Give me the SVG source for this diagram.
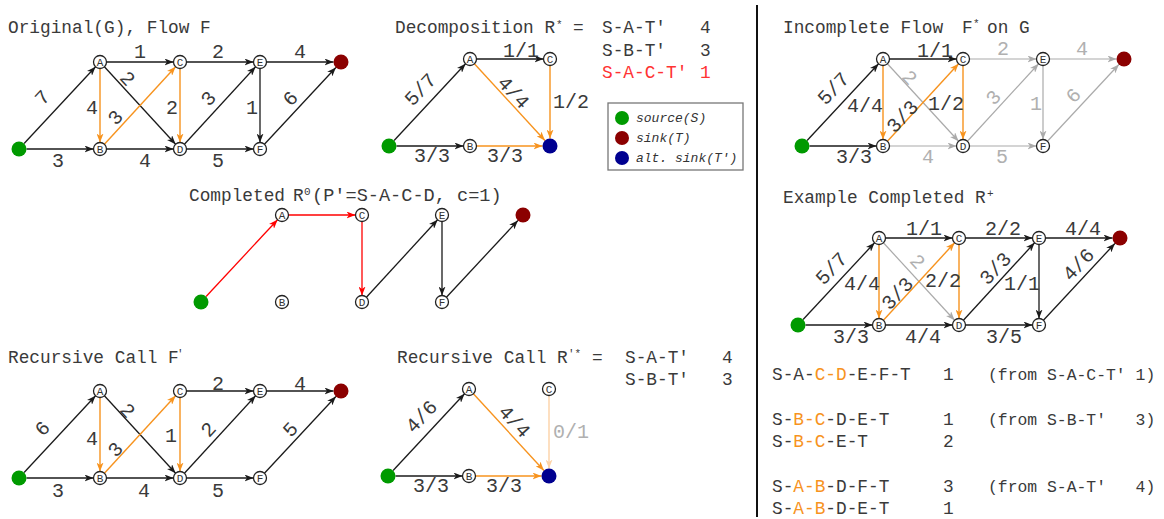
<svg xmlns="http://www.w3.org/2000/svg" width="1164" height="519" viewBox="0 0 1164 519">
<style>
.t{font-family:"Liberation Mono",monospace;font-size:17.8px;fill:#3a3a3a;white-space:pre}
.sm{font-size:16.4px}
.sup{font-family:"Liberation Mono",monospace;font-size:11px;fill:#3a3a3a}
.l{font-family:"Liberation Mono",monospace;font-size:20px;fill:#3a3a3a;text-anchor:middle}
.lg{fill:#b0b0b0}
.nt{font-family:"Liberation Mono",monospace;font-size:11px;fill:#333;text-anchor:middle}
.n{fill:#fff;stroke:#222;stroke-width:1.3}
.e{fill:none;stroke:#1a1a1a;stroke-width:1.3;marker-end:url(#ab)}
.eo{fill:none;stroke:#f7931e;stroke-width:1.4;marker-end:url(#ao)}
.eg{fill:none;stroke:#aaa;stroke-width:1.2;marker-end:url(#ag)}
.er{fill:none;stroke:#f00;stroke-width:1.3;marker-end:url(#ar)}
.el{fill:none;stroke:#fdd2a6;stroke-width:1.4;marker-end:url(#al)}
.src{fill:#009a00}
.snk{fill:#8b0000}
.alt{fill:#000090}
.leg{font-family:"Liberation Mono",monospace;font-size:13px;font-style:italic;fill:#333}
.o{fill:#f7931e}
</style>
<defs>
<marker id="ab" viewBox="0 0 9 7" refX="9" refY="3.5" markerWidth="9" markerHeight="7" markerUnits="userSpaceOnUse" orient="auto"><path d="M0,0 L9,3.5 L0,7 L2.5,3.5 Z" fill="#1a1a1a"/></marker>
<marker id="ao" viewBox="0 0 9 7" refX="9" refY="3.5" markerWidth="9" markerHeight="7" markerUnits="userSpaceOnUse" orient="auto"><path d="M0,0 L9,3.5 L0,7 L2.5,3.5 Z" fill="#f7931e"/></marker>
<marker id="ag" viewBox="0 0 9 7" refX="9" refY="3.5" markerWidth="9" markerHeight="7" markerUnits="userSpaceOnUse" orient="auto"><path d="M0,0 L9,3.5 L0,7 L2.5,3.5 Z" fill="#aaa"/></marker>
<marker id="ar" viewBox="0 0 9 7" refX="9" refY="3.5" markerWidth="9" markerHeight="7" markerUnits="userSpaceOnUse" orient="auto"><path d="M0,0 L9,3.5 L0,7 L2.5,3.5 Z" fill="#f00"/></marker>
<marker id="al" viewBox="0 0 9 7" refX="9" refY="3.5" markerWidth="9" markerHeight="7" markerUnits="userSpaceOnUse" orient="auto"><path d="M0,0 L9,3.5 L0,7 L2.5,3.5 Z" fill="#fdd2a6"/></marker>
</defs>
<rect width="1164" height="519" fill="#fff"/>

<!-- Titles -->
<g id="titles">
<text class="t" x="8" y="33">Original(G), Flow F</text>
<text class="t" x="395" y="33">Decomposition R</text><text class="sup" x="556" y="28">*</text><text class="t" x="573" y="33">=</text>
<text class="t" x="602" y="33">S-A-T'</text><text class="t" x="700" y="33">4</text>
<text class="t" x="602" y="56">S-B-T'</text><text class="t" x="700" y="56">3</text>
<text class="t" x="602" y="78" style="fill:#ff3333">S-A-C-T'</text><text class="t" x="700" y="78" style="fill:#ff3333">1</text>
<text class="t" x="783" y="33">Incomplete Flow</text><text class="t" x="962" y="33">F</text><text class="sup" x="973" y="27">*</text><text class="t" x="987" y="33">on G</text>
<text class="t" x="189" y="201">Completed</text><text class="t" x="293" y="201">R</text><text class="sup" x="304" y="195">0</text><text class="t" x="312" y="201" style="font-size:18.6px">(P'=S-A-C-D, c=1)</text>
<text class="t" x="783" y="203">Example Completed R</text><text class="sup" x="987" y="197">+</text>
<text class="t" x="8" y="363">Recursive Call F</text><text class="sup" x="177" y="357">'</text>
<text class="t" x="397" y="363">Recursive Call R</text><text class="sup" x="568" y="357">'*</text><text class="t" x="592" y="363">=</text>
<text class="t" x="625" y="363">S-A-T'</text><text class="t" x="722" y="363">4</text>
<text class="t" x="625" y="385">S-B-T'</text><text class="t" x="722" y="385">3</text>
</g>

<!-- Legend -->
<g id="legend">
<rect x="608" y="103" width="135" height="67" fill="#fff" stroke="#777" stroke-width="1.3"/>
<circle class="src" cx="622" cy="118" r="7"/><text class="leg" x="636" y="122">source(S)</text>
<circle class="snk" cx="622" cy="138" r="7"/><text class="leg" x="636" y="142">sink(T)</text>
<circle class="alt" cx="622" cy="158" r="7"/><text class="leg" x="636" y="162">alt. sink(T')</text>
</g>

<line id="divider" x1="757" y1="5" x2="757" y2="517" stroke="#111" stroke-width="2"/>

<!-- Panel 1: Original G -->
<g id="panel-original" transform="translate(19,149)">
<g id="p1-edges">
<path class="e" d="M5.1,-5.5 L76.57,-82.24"/>
<path class="e" d="M7.5,0 L74.5,0"/>
<path class="e" d="M87.5,-87 L154.5,-87"/>
<path class="eo" d="M81,-80.5 L81,-6.5"/>
<path class="e" d="M85.4,-82.22 L156.6,-4.78"/>
<path class="eo" d="M85.4,-4.78 L156.6,-82.22"/>
<path class="e" d="M87.5,0 L154.5,0"/>
<path class="eo" d="M161,-80.5 L161,-6.5"/>
<path class="e" d="M167.5,-87 L234.5,-87"/>
<path class="e" d="M165.4,-4.78 L236.6,-82.22"/>
<path class="e" d="M167.5,0 L234.5,0"/>
<path class="e" d="M241,-80.5 L241,-6.5"/>
<path class="e" d="M247.5,-87 L314.5,-87"/>
<path class="e" d="M245.43,-4.76 L316.89,-81.51"/>
</g>
<g id="p1-labels">
<text class="l" transform="translate(23,-52) rotate(-47)" y="7">7</text>
<text class="l" x="121" y="-91">1</text>
<text class="l" x="199" y="-91">2</text>
<text class="l" x="281" y="-91">4</text>
<text class="l" x="73" y="-35">4</text>
<text class="l" transform="translate(109,-71) rotate(47)" y="7">2</text>
<text class="l" transform="translate(96,-32) rotate(-47)" y="7">3</text>
<text class="l" x="153" y="-35">2</text>
<text class="l" transform="translate(189,-51) rotate(-47)" y="7">3</text>
<text class="l" x="233" y="-35">1</text>
<text class="l" transform="translate(271,-51) rotate(-47)" y="7">6</text>
<text class="l" x="39" y="18">3</text>
<text class="l" x="126" y="18">4</text>
<text class="l" x="199" y="18">5</text>
</g>
<g id="p1-S"><circle class="src" cx="0" cy="0" r="7.5"/></g>
<g id="p1-A"><circle class="n" cx="81" cy="-87" r="6.5"/><text class="nt" x="81" y="-83">A</text></g>
<g id="p1-B"><circle class="n" cx="81" cy="0" r="6.5"/><text class="nt" x="81" y="4">B</text></g>
<g id="p1-C"><circle class="n" cx="161" cy="-87" r="6.5"/><text class="nt" x="161" y="-83">C</text></g>
<g id="p1-D"><circle class="n" cx="161" cy="0" r="6.5"/><text class="nt" x="161" y="4">D</text></g>
<g id="p1-E"><circle class="n" cx="241" cy="-87" r="6.5"/><text class="nt" x="241" y="-83">E</text></g>
<g id="p1-F"><circle class="n" cx="241" cy="0" r="6.5"/><text class="nt" x="241" y="4">F</text></g>
<g id="p1-T"><circle class="snk" cx="322" cy="-87" r="7.5"/></g>
</g>

<!-- Panel 2: Decomposition -->
<g id="panel-decomp" transform="translate(389,146)">
<g id="p2-edges">
<path class="e" d="M5.1,-5.5 L76.57,-82.24"/>
<path class="e" d="M7.5,0 L74.5,0"/>
<path class="e" d="M87.5,-87 L154.5,-87"/>
<path class="eo" d="M85.4,-82.22 L155.92,-5.52"/>
<path class="eo" d="M161,-80.5 L161,-7.5"/>
<path class="eo" d="M87.5,0 L153.5,0"/>
</g>
<g id="p2-labels">
<text class="l" transform="translate(31,-57) rotate(-47)" y="7">5/7</text>
<text class="l" x="132" y="-89">1/1</text>
<text class="l" transform="translate(125,-54) rotate(47)" y="7">4/4</text>
<text class="l" x="182" y="-38">1/2</text>
<text class="l" x="43" y="16">3/3</text>
<text class="l" x="116" y="16">3/3</text>
</g>
<g id="p2-S"><circle class="src" cx="0" cy="0" r="7.5"/></g>
<g id="p2-A"><circle class="n" cx="81" cy="-87" r="6.5"/><text class="nt" x="81" y="-83">A</text></g>
<g id="p2-B"><circle class="n" cx="81" cy="0" r="6.5"/><text class="nt" x="81" y="4">B</text></g>
<g id="p2-C"><circle class="n" cx="161" cy="-87" r="6.5"/><text class="nt" x="161" y="-83">C</text></g>
<g id="p2-T2"><circle class="alt" cx="161" cy="0" r="7.5"/></g>
</g>

<!-- Panel 3: Incomplete Flow -->
<g id="panel-incomplete" transform="translate(802,146)">
<g id="p3-edges">
<path class="eg" d="M85.4,-82.22 L156.6,-4.78"/>
<path class="eg" d="M87.5,0 L154.5,0"/>
<path class="eg" d="M167.5,-87 L234.5,-87"/>
<path class="eg" d="M165.4,-4.78 L236.6,-82.22"/>
<path class="eg" d="M167.5,0 L234.5,0"/>
<path class="eg" d="M241,-80.5 L241,-6.5"/>
<path class="eg" d="M247.5,-87 L314.5,-87"/>
<path class="eg" d="M245.43,-4.76 L316.89,-81.51"/>
<path class="e" d="M5.1,-5.5 L76.57,-82.24"/>
<path class="e" d="M7.5,0 L74.5,0"/>
<path class="e" d="M87.5,-87 L154.5,-87"/>
<path class="eo" d="M81,-80.5 L81,-6.5"/>
<path class="eo" d="M85.4,-4.78 L156.6,-82.22"/>
<path class="eo" d="M161,-80.5 L161,-6.5"/>
</g>
<g id="p3-labels">
<text class="l" transform="translate(31,-58) rotate(-47)" y="7">5/7</text>
<text class="l" x="63" y="-34">4/4</text>
<text class="l" transform="translate(100,-30) rotate(-47)" y="7">3/3</text>
<text class="l" x="133" y="-89">1/1</text>
<text class="l lg" transform="translate(108,-69) rotate(47)" y="7">2</text>
<text class="l" x="144" y="-36">1/2</text>
<text class="l lg" x="201" y="-91">2</text>
<text class="l lg" x="280" y="-91">4</text>
<text class="l lg" transform="translate(191,-49) rotate(-47)" y="7">3</text>
<text class="l lg" x="234" y="-36">1</text>
<text class="l lg" transform="translate(271,-51) rotate(-47)" y="7">6</text>
<text class="l" x="52" y="17">3/3</text>
<text class="l lg" x="126" y="17">4</text>
<text class="l lg" x="200" y="17">5</text>
</g>
<g id="p3-S"><circle class="src" cx="0" cy="0" r="7.5"/></g>
<g id="p3-A"><circle class="n" cx="81" cy="-87" r="6.5"/><text class="nt" x="81" y="-83">A</text></g>
<g id="p3-B"><circle class="n" cx="81" cy="0" r="6.5"/><text class="nt" x="81" y="4">B</text></g>
<g id="p3-C"><circle class="n" cx="161" cy="-87" r="6.5"/><text class="nt" x="161" y="-83">C</text></g>
<g id="p3-D"><circle class="n" cx="161" cy="0" r="6.5"/><text class="nt" x="161" y="4">D</text></g>
<g id="p3-E"><circle class="n" cx="241" cy="-87" r="6.5"/><text class="nt" x="241" y="-83">E</text></g>
<g id="p3-F"><circle class="n" cx="241" cy="0" r="6.5"/><text class="nt" x="241" y="4">F</text></g>
<g id="p3-T"><circle class="snk" cx="322" cy="-87" r="7.5"/></g>
</g>

<!-- Panel 4: Completed R0 -->
<g id="panel-r0" transform="translate(201,302)">
<g id="p4-edges">
<path class="er" d="M5.1,-5.5 L76.57,-82.24"/>
<path class="er" d="M87.5,-87 L154.5,-87"/>
<path class="er" d="M161,-80.5 L161,-6.5"/>
<path class="e" d="M165.4,-4.78 L236.6,-82.22"/>
<path class="e" d="M241,-80.5 L241,-6.5"/>
<path class="e" d="M245.43,-4.76 L316.89,-81.51"/>
</g>
<g id="p4-S"><circle class="src" cx="0" cy="0" r="7.5"/></g>
<g id="p4-A"><circle class="n" cx="81" cy="-87" r="6.5"/><text class="nt" x="81" y="-83">A</text></g>
<g id="p4-B"><circle class="n" cx="81" cy="0" r="6.5"/><text class="nt" x="81" y="4">B</text></g>
<g id="p4-C"><circle class="n" cx="161" cy="-87" r="6.5"/><text class="nt" x="161" y="-83">C</text></g>
<g id="p4-D"><circle class="n" cx="161" cy="0" r="6.5"/><text class="nt" x="161" y="4">D</text></g>
<g id="p4-E"><circle class="n" cx="241" cy="-87" r="6.5"/><text class="nt" x="241" y="-83">E</text></g>
<g id="p4-F"><circle class="n" cx="241" cy="0" r="6.5"/><text class="nt" x="241" y="4">F</text></g>
<g id="p4-T"><circle class="snk" cx="322" cy="-87" r="7.5"/></g>
</g>

<!-- Panel 5: Example Completed R+ -->
<g id="panel-rplus" transform="translate(798,325)">
<g id="p5-edges">
<path class="eg" d="M85.4,-82.22 L156.6,-4.78"/>
<path class="e" d="M5.1,-5.5 L76.57,-82.24"/>
<path class="e" d="M7.5,0 L74.5,0"/>
<path class="e" d="M87.5,-87 L154.5,-87"/>
<path class="eo" d="M81,-80.5 L81,-6.5"/>
<path class="eo" d="M85.4,-4.78 L156.6,-82.22"/>
<path class="e" d="M87.5,0 L154.5,0"/>
<path class="eo" d="M161,-80.5 L161,-6.5"/>
<path class="e" d="M167.5,-87 L234.5,-87"/>
<path class="e" d="M165.4,-4.78 L236.6,-82.22"/>
<path class="e" d="M167.5,0 L234.5,0"/>
<path class="e" d="M241,-80.5 L241,-6.5"/>
<path class="e" d="M247.5,-87 L314.5,-87"/>
<path class="e" d="M245.43,-4.76 L316.89,-81.51"/>
</g>
<g id="p5-labels">
<text class="l" transform="translate(33,-57) rotate(-47)" y="7">5/7</text>
<text class="l" x="64" y="-35">4/4</text>
<text class="l" transform="translate(99,-32) rotate(-47)" y="7">3/3</text>
<text class="l lg" transform="translate(120,-64) rotate(47)" y="7">2</text>
<text class="l" x="145" y="-38">2/2</text>
<text class="l" x="126" y="-90">1/1</text>
<text class="l" x="205" y="-90">2/2</text>
<text class="l" x="285" y="-90">4/4</text>
<text class="l" transform="translate(197,-57) rotate(-47)" y="7">3/3</text>
<text class="l" x="224" y="-35">1/1</text>
<text class="l" transform="translate(280,-61) rotate(-47)" y="7">4/6</text>
<text class="l" x="53" y="18">3/3</text>
<text class="l" x="125" y="18">4/4</text>
<text class="l" x="206" y="18">3/5</text>
</g>
<g id="p5-S"><circle class="src" cx="0" cy="0" r="7.5"/></g>
<g id="p5-A"><circle class="n" cx="81" cy="-87" r="6.5"/><text class="nt" x="81" y="-83">A</text></g>
<g id="p5-B"><circle class="n" cx="81" cy="0" r="6.5"/><text class="nt" x="81" y="4">B</text></g>
<g id="p5-C"><circle class="n" cx="161" cy="-87" r="6.5"/><text class="nt" x="161" y="-83">C</text></g>
<g id="p5-D"><circle class="n" cx="161" cy="0" r="6.5"/><text class="nt" x="161" y="4">D</text></g>
<g id="p5-E"><circle class="n" cx="241" cy="-87" r="6.5"/><text class="nt" x="241" y="-83">E</text></g>
<g id="p5-F"><circle class="n" cx="241" cy="0" r="6.5"/><text class="nt" x="241" y="4">F</text></g>
<g id="p5-T"><circle class="snk" cx="322" cy="-87" r="7.5"/></g>
</g>

<!-- Panel 6: Recursive Call F' -->
<g id="panel-fprime" transform="translate(19,478)">
<g id="p6-edges">
<path class="e" d="M5.1,-5.5 L76.57,-82.24"/>
<path class="e" d="M7.5,0 L74.5,0"/>
<path class="eo" d="M81,-80.5 L81,-6.5"/>
<path class="e" d="M85.4,-82.22 L156.6,-4.78"/>
<path class="eo" d="M85.4,-4.78 L156.6,-82.22"/>
<path class="e" d="M87.5,0 L154.5,0"/>
<path class="eo" d="M161,-80.5 L161,-6.5"/>
<path class="e" d="M167.5,-87 L234.5,-87"/>
<path class="e" d="M165.4,-4.78 L236.6,-82.22"/>
<path class="e" d="M167.5,0 L234.5,0"/>
<path class="e" d="M247.5,-87 L314.5,-87"/>
<path class="e" d="M245.43,-4.76 L316.89,-81.51"/>
</g>
<g id="p6-labels">
<text class="l" transform="translate(23,-50) rotate(-47)" y="7">6</text>
<text class="l" transform="translate(109,-68) rotate(47)" y="7">2</text>
<text class="l" x="73" y="-33">4</text>
<text class="l" transform="translate(96,-29) rotate(-47)" y="7">3</text>
<text class="l" x="152" y="-36">1</text>
<text class="l" x="199" y="-88">2</text>
<text class="l" x="281" y="-88">4</text>
<text class="l" transform="translate(189,-49) rotate(-47)" y="7">2</text>
<text class="l" transform="translate(271,-49) rotate(-47)" y="7">5</text>
<text class="l" x="39" y="19">3</text>
<text class="l" x="125" y="19">4</text>
<text class="l" x="199" y="19">5</text>
</g>
<g id="p6-S"><circle class="src" cx="0" cy="0" r="7.5"/></g>
<g id="p6-A"><circle class="n" cx="81" cy="-87" r="6.5"/><text class="nt" x="81" y="-83">A</text></g>
<g id="p6-B"><circle class="n" cx="81" cy="0" r="6.5"/><text class="nt" x="81" y="4">B</text></g>
<g id="p6-C"><circle class="n" cx="161" cy="-87" r="6.5"/><text class="nt" x="161" y="-83">C</text></g>
<g id="p6-D"><circle class="n" cx="161" cy="0" r="6.5"/><text class="nt" x="161" y="4">D</text></g>
<g id="p6-E"><circle class="n" cx="241" cy="-87" r="6.5"/><text class="nt" x="241" y="-83">E</text></g>
<g id="p6-F"><circle class="n" cx="241" cy="0" r="6.5"/><text class="nt" x="241" y="4">F</text></g>
<g id="p6-T"><circle class="snk" cx="322" cy="-87" r="7.5"/></g>
</g>

<!-- Panel 7: Recursive Call R'* -->
<g id="panel-rprime" transform="translate(388,476)">
<g id="p7-edges">
<path class="e" d="M5.1,-5.5 L76.57,-82.24"/>
<path class="e" d="M7.5,0 L74.5,0"/>
<path class="eo" d="M85.4,-82.22 L155.92,-5.52"/>
<path class="el" d="M161,-80.5 L161,-7.5"/>
<path class="eo" d="M87.5,0 L153.5,0"/>
</g>
<g id="p7-labels">
<text class="l" transform="translate(33,-60) rotate(-47)" y="7">4/6</text>
<text class="l" transform="translate(127,-55) rotate(47)" y="7">4/4</text>
<text class="l lg" x="183" y="-38">0/1</text>
<text class="l" x="43" y="16">3/3</text>
<text class="l" x="116" y="16">3/3</text>
</g>
<g id="p7-S"><circle class="src" cx="0" cy="0" r="7.5"/></g>
<g id="p7-A"><circle class="n" cx="81" cy="-87" r="6.5"/><text class="nt" x="81" y="-83">A</text></g>
<g id="p7-B"><circle class="n" cx="81" cy="0" r="6.5"/><text class="nt" x="81" y="4">B</text></g>
<g id="p7-C"><circle class="n" cx="161" cy="-87" r="6.5"/><text class="nt" x="161" y="-83">C</text></g>
<g id="p7-T2"><circle class="alt" cx="161" cy="0" r="7.5"/></g>
</g>

<!-- Paths list -->
<g id="paths">
<text class="t" x="772" y="380">S-A-<tspan class="o">C-D</tspan>-E-F-T</text><text class="t" x="943" y="380">1</text><text class="t sm" x="988" y="380">(from S-A-C-T' 1)</text>
<text class="t" x="772" y="425">S-<tspan class="o">B-C</tspan>-D-E-T</text><text class="t" x="943" y="425">1</text><text class="t sm" x="988" y="425">(from S-B-T'   3)</text>
<text class="t" x="772" y="447">S-<tspan class="o">B-C</tspan>-E-T</text><text class="t" x="943" y="447">2</text>
<text class="t" x="772" y="492">S-<tspan class="o">A-B</tspan>-D-F-T</text><text class="t" x="943" y="492">3</text><text class="t sm" x="988" y="492">(from S-A-T'   4)</text>
<text class="t" x="772" y="514">S-<tspan class="o">A-B</tspan>-D-E-T</text><text class="t" x="943" y="514">1</text>
</g>
</svg>
